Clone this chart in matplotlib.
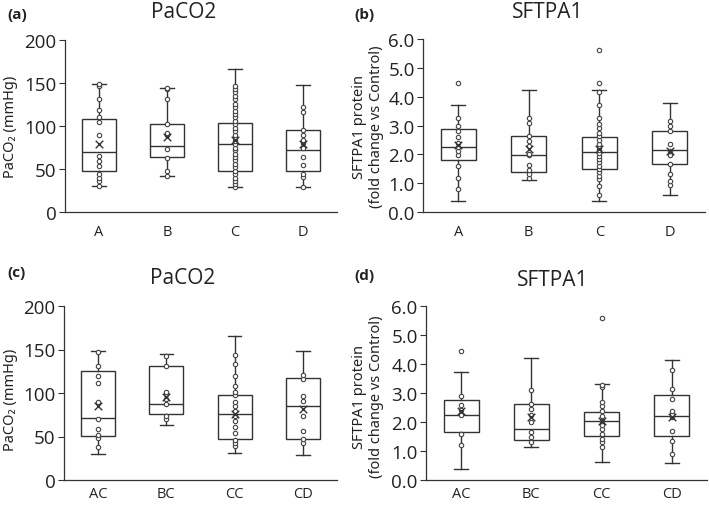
import matplotlib
matplotlib.use("Agg")
import matplotlib.pyplot as plt

plt.rcParams['font.family'] = ['Open Sans', 'DejaVu Sans']

groups_top = ['A', 'B', 'C', 'D']
groups_bot = ['AC', 'BC', 'CC', 'CD']

# (a) PaCO2 by group
a_q1 = [48, 64, 48, 48]
a_med = [70, 77, 79, 72]
a_q3 = [108, 102, 103, 95]
a_lo = [30, 42, 29, 29]
a_hi = [149, 144, 166, 148]
a_mean = [79, 87, 84, 79]
a_pts = [
    [30, 36, 40, 44, 53, 59, 65, 90, 105, 110, 119, 131, 147, 149],
    [42, 48, 63, 73, 90, 92, 102, 131, 143, 144],
    [29, 32, 36, 40, 44, 48, 52, 56, 60, 64, 68, 72, 75, 79, 83, 86, 90, 94,
     98, 102, 106, 110, 114, 118, 122, 126, 131, 135, 139, 143, 146],
    [29, 41, 44, 55, 64, 74, 80, 84, 89, 95, 116, 122],
]

# (b) SFTPA1 by group
b_q1 = [1.82, 1.37, 1.50, 1.66]
b_med = [2.25, 1.96, 2.08, 2.15]
b_q3 = [2.87, 2.63, 2.60, 2.80]
b_lo = [0.38, 1.10, 0.38, 0.58]
b_hi = [3.71, 4.23, 4.23, 3.79]
b_mean = [2.31, 2.19, 2.19, 2.13]
b_pts = [
    [0.79, 1.18, 1.61, 1.96, 2.11, 2.25, 2.40, 2.60, 2.80, 2.97, 3.26, 4.46],
    [1.18, 1.32, 1.45, 1.64, 1.96, 2.01, 2.30, 2.45, 2.63, 3.09, 3.26],
    [0.58, 0.90, 1.15, 1.25, 1.40, 1.50, 1.60, 1.75, 1.85, 1.95, 2.05, 2.15,
     2.25, 2.35, 2.50, 2.65, 2.75, 2.90, 3.05, 3.25, 3.70, 4.15, 4.46, 5.62],
    [0.92, 1.09, 1.32, 1.68, 1.96, 2.10, 2.37, 2.82, 2.97, 3.17],
]

# (c) PaCO2 by subgroup
c_q1 = [51, 76, 47, 47.5]
c_med = [71.5, 87, 75.4, 85]
c_q3 = [125, 131, 98, 117]
c_lo = [30, 63, 31, 29]
c_hi = [148, 144.5, 165, 148]
c_mean = [85, 95, 76, 82]
c_pts = [
    [38, 48.5, 52, 59, 70, 90, 111, 119, 131, 147],
    [70, 73.5, 87, 93, 98.6, 101, 131, 142.6],
    [39, 43, 46, 53.5, 61, 68, 74, 79, 85, 90, 98, 101, 108, 119, 133, 143.5],
    [42.7, 47.4, 56, 73.8, 91, 96, 116, 121],
]

# (d) SFTPA1 by subgroup
d_q1 = [1.64, 1.37, 1.52, 1.52]
d_med = [2.23, 1.76, 2.05, 2.19]
d_q3 = [2.76, 2.62, 2.35, 2.94]
d_lo = [0.39, 1.15, 0.62, 0.59]
d_hi = [3.73, 4.20, 3.30, 4.15]
d_mean = [2.37, 2.17, 2.05, 2.17]
d_pts = [
    [1.19, 1.60, 2.23, 2.40, 2.60, 2.88, 4.45],
    [1.31, 1.48, 1.65, 2.00, 2.25, 2.45, 2.62, 3.09],
    [1.15, 1.30, 1.40, 1.60, 1.75, 1.90, 2.03, 2.20, 2.37, 2.55, 2.70, 3.20,
     3.28, 5.58],
    [0.90, 1.34, 1.69, 2.17, 2.29, 2.37, 2.79, 3.14, 3.78],
]

W, H = 709, 506
fig = plt.figure(figsize=(W / 100, H / 100), dpi=100)


def px_axes(l, t, r, b):
    return fig.add_axes([l / W, 1 - b / H, (r - l) / W, (b - t) / H])


LC = '#333333'


def panel(ax, labels, q1, med, q3, lo, hi, mean, pts, ymax, yticks, ytl,
          xpad=9):
    stats = []
    for i in range(len(labels)):
        stats.append(dict(q1=q1[i], med=med[i], q3=q3[i], whislo=lo[i],
                          whishi=hi[i], mean=mean[i], fliers=[]))
    pos = list(range(1, len(labels) + 1))
    ax.bxp(stats, positions=pos, widths=0.5, capwidths=0.2, showmeans=False,
           patch_artist=True,
           boxprops=dict(facecolor='white', edgecolor=LC, linewidth=1.0),
           medianprops=dict(color=LC, linewidth=1.0),
           whiskerprops=dict(color=LC, linewidth=1.0),
           capprops=dict(color=LC, linewidth=1.0), zorder=2)
    for i, p in enumerate(pts):
        ax.scatter([pos[i]] * len(p), p, s=10, facecolors='white',
                   edgecolors='#444444', linewidths=0.8, zorder=3)
    ax.scatter(pos, mean, marker='x', s=30, color='#333333', linewidths=1.0,
               zorder=4)
    ax.set_xlim(0.5, len(labels) + 0.5)
    ax.set_ylim(0, ymax)
    ax.set_yticks(yticks)
    ax.set_yticklabels(ytl, fontsize=13.5, color='#222222')
    ax.set_xticks(pos)
    ax.set_xticklabels(labels, fontsize=10.5, color='#222222')
    ax.tick_params(axis='x', length=0, pad=xpad)
    ax.tick_params(axis='y', length=4, width=0.8, color=LC, pad=2)
    for s in ['top', 'right']:
        ax.spines[s].set_visible(False)
    for s in ['left', 'bottom']:
        ax.spines[s].set_color(LC)
        ax.spines[s].set_linewidth(0.9)


paco_ticks = [0, 50, 100, 150, 200]
paco_tl = ['0', '50', '100', '150', '200']
sf_ticks = [0, 1, 2, 3, 4, 5, 6]
sf_tl = ['0.0', '1.0', '2.0', '3.0', '4.0', '5.0', '6.0']

ax_a = px_axes(65, 41, 337, 213)
panel(ax_a, groups_top, a_q1, a_med, a_q3, a_lo, a_hi, a_mean, a_pts, 200,
      paco_ticks, paco_tl)
ax_b = px_axes(423, 40, 705, 213)
panel(ax_b, groups_top, b_q1, b_med, b_q3, b_lo, b_hi, b_mean, b_pts, 6,
      sf_ticks, sf_tl)
ax_c = px_axes(64, 307, 337, 481)
panel(ax_c, groups_bot, c_q1, c_med, c_q3, c_lo, c_hi, c_mean, c_pts, 200,
      paco_ticks, paco_tl, xpad=4)
ax_d = px_axes(426, 307, 707, 481)
panel(ax_d, groups_bot, d_q1, d_med, d_q3, d_lo, d_hi, d_mean, d_pts, 6,
      sf_ticks, sf_tl, xpad=4)


def ftext(x, y, s, **kw):
    fig.text(x / W, 1 - y / H, s, **kw)


tk = dict(ha='center', va='center', color='#222222')
ftext(184, 13, 'PaCO2', fontsize=15, **tk)
ftext(548, 13, 'SFTPA1', fontsize=15, **tk)
ftext(183, 279, 'PaCO2', fontsize=15, **tk)
ftext(553, 280, 'SFTPA1', fontsize=15, **tk)

ftext(17, 15, '(a)', fontsize=11, fontweight='bold', **tk)
ftext(364, 15, '(b)', fontsize=11, fontweight='bold', **tk)
ftext(17, 273, '(c)', fontsize=11, fontweight='bold', **tk)
ftext(364, 276, '(d)', fontsize=11, fontweight='bold', **tk)

ylab = dict(ha='center', va='center', rotation=90, color='#222222',
            fontsize=10.5, family=['Noto Sans', 'DejaVu Sans'])
ftext(11, 127, 'PaCO\u2082 (mmHg)', **ylab)
ftext(11, 400, 'PaCO\u2082 (mmHg)', **ylab)
ftext(368, 127, 'SFTPA1 protein\n(fold change vs Control)',
      linespacing=1.15, **ylab)
ftext(368, 397, 'SFTPA1 protein\n(fold change vs Control)',
      linespacing=1.15, **ylab)

fig.savefig('out.png', dpi=100)
